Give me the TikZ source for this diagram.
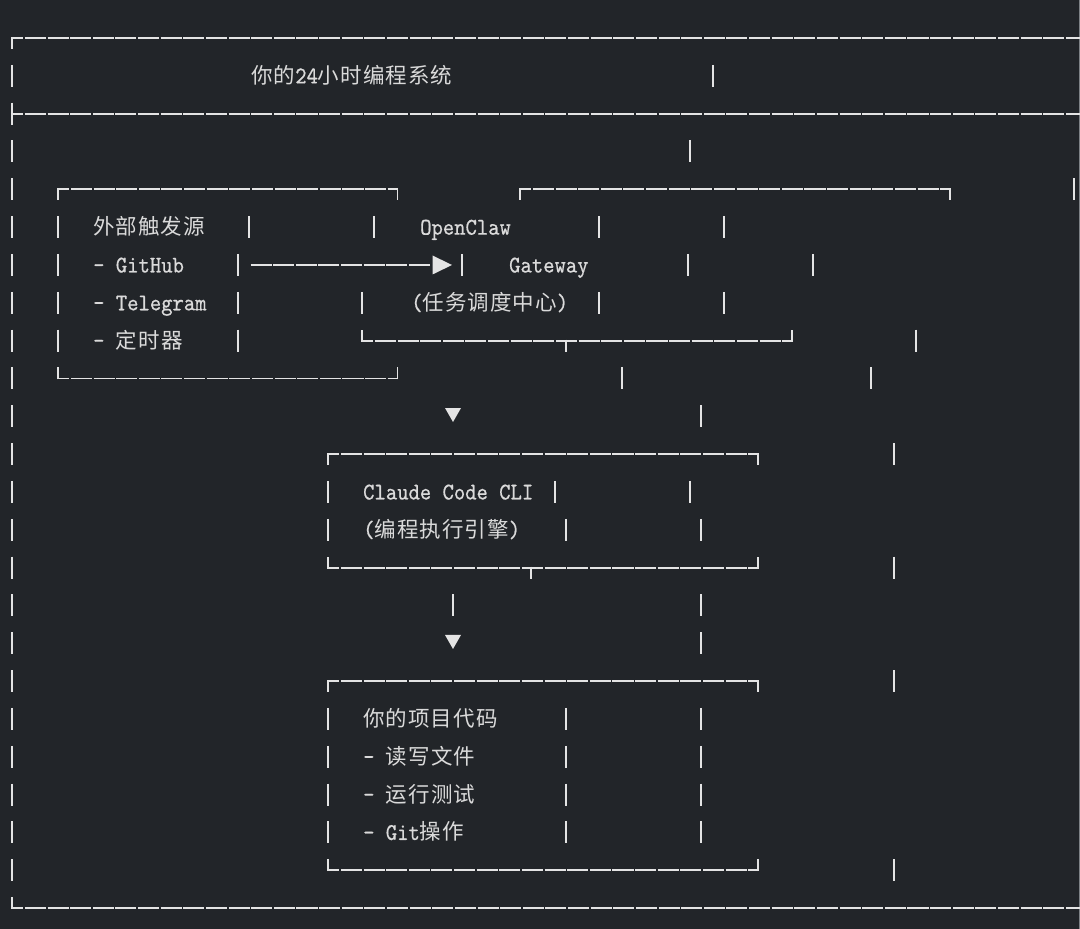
\documentclass[tikz,border=0pt]{standalone}
\usepackage{fontspec}
\newfontfamily\cjk[LetterSpace=5]{Noto Sans CJK SC}
\newfontfamily\monof[FakeStretch=0.9,FakeBold=0.6]{lmmono10-regular.otf}
\newcommand\mono{\monof\fontsize{24}{26}\selectfont}
\definecolor{bgc}{HTML}{222529}
\definecolor{lnc}{HTML}{E4E4E4}
\definecolor{txc}{HTML}{DADADA}
\definecolor{edgec}{HTML}{7E8286}
\newcommand\R[1]{(38+37.83*#1)}
\newcommand\vbr[2]{\draw[lnst] (#1,{\R{#2}-11}) -- (#1,{\R{#2}+11});}
\newcommand\hln[3]{\draw[lnst,dash pattern=on 21.03pt off 1.6pt,dash phase=9.715pt] (#1,{\R{#3}}) -- (#2,{\R{#3}});}
\newcommand\crdn[2]{\draw[lnst] (#1,{\R{#2}-0.9}) -- (#1,{\R{#2}+11});}
\newcommand\crup[2]{\draw[lnst] (#1,{\R{#2}+0.9}) -- (#1,{\R{#2}-11});}
\newcommand\tri[1]{\fill[lnc] (445,{\R{#1}-8.3}) -- (461,{\R{#1}-8.3}) -- (453,{\R{#1}+5.7}) -- cycle;}
\begin{document}
\begin{tikzpicture}[x=1pt,y=-1pt,
  lnst/.style={draw=lnc,line width=1.8pt},
  txt/.style={text=txc,inner sep=0pt,anchor=base west,font=\fontsize{21.5}{24}\selectfont}]
\fill[bgc] (0,0) rectangle (1080,929);
\useasboundingbox (0,0) rectangle (1080,929);
\draw[edgec,line width=0.8pt] (1079.6,0) -- (1079.6,929);
% outer frame
\crdn{12}{0} \hln{12}{1100}{0}
\foreach \r in {1,...,22} {\vbr{12}{\r}}
\hln{12}{1100}{2}
\crup{12}{23} \hln{12}{1100}{23}
% row 1 and 3
\vbr{713}{1}
\vbr{690}{3}
% row 4 box tops
\crdn{58}{4} \hln{58}{397.5}{4} \crdn{397.5}{4}
\crdn{520}{4} \hln{520}{950}{4} \crdn{950}{4}
\vbr{1074}{4}
% row 5
\foreach \x in {58,249,374,599,724} {\vbr{\x}{5}}
% row 6
\foreach \x in {58,238,462,688,813} {\vbr{\x}{6}}
\coordinate (arrS) at (250.5,{\R{6}});
\coordinate (arrE) at (431,{\R{6}});
\draw[lnst,dash pattern=on 21.03pt off 1.6pt] (arrS) -- (arrE);
\fill[lnc] (432.5,{\R{6}-9.5}) -- (452,{\R{6}}) -- (432.5,{\R{6}+9.5}) -- cycle;
% row 7
\foreach \x in {58,238,362,599,724} {\vbr{\x}{7}}
% row 8
\foreach \x in {58,238,916} {\vbr{\x}{8}}
\crup{362}{8} \hln{362}{792}{8} \crup{792}{8}
\crdn{566}{8}
% row 9
\crup{58}{9} \hln{58}{397.5}{9} \crup{397.5}{9}
\vbr{622}{9} \vbr{871}{9}
% row 10
\tri{10} \vbr{701}{10}
% row 11
\crdn{328}{11} \hln{328}{758}{11} \crdn{758}{11}
\vbr{894}{11}
% row 12, 13
\foreach \x in {328,555,690} {\vbr{\x}{12}}
\foreach \x in {328,566,701} {\vbr{\x}{13}}
% row 14
\crup{328}{14} \hln{328}{758}{14} \crup{758}{14}
\crdn{531}{14}
\vbr{894}{14}
% row 15, 16
\vbr{453}{15} \vbr{701}{15}
\tri{16} \vbr{701}{16}
% row 17
\crdn{328}{17} \hln{328}{758}{17} \crdn{758}{17}
\vbr{894}{17}
% rows 18-21
\foreach \r in {18,...,21} {\vbr{328}{\r} \vbr{566}{\r} \vbr{701}{\r}}
% row 22
\crup{328}{22} \hln{328}{758}{22} \crup{758}{22}
\vbr{894}{22}
% texts
\node[txt] (ttitle) at (251,{\R{1}+7.5}) {{\cjk 你的}{\mono 24}{\cjk 小时编程系统}};
\node[txt] (tsrc) at (93,{\R{5}+7.5}) {\cjk 外部触发源};
\node[txt] (tgh) at (93,{\R{6}+7.5}) {\mono - GitHub};
\node[txt] (ttg) at (93,{\R{7}+7.5}) {\mono - Telegram};
\node[txt] (ttimer) at (93,{\R{8}+7.5}) {{\mono - }{\cjk 定时器}};
\node[txt] (toc) at (420,{\R{5}+7.5}) {\mono OpenClaw};
\node[txt] (tgw) at (509,{\R{6}+7.5}) {\mono Gateway};
\node[txt] (tsched) at (411,{\R{7}+7.5}) {{\mono (}{\cjk 任务调度中心}{\mono )}};
\node[txt] (tcc) at (363,{\R{12}+7.5}) {\mono Claude Code CLI};
\node[txt] (teng) at (363,{\R{13}+7.5}) {{\mono (}{\cjk 编程执行引擎}{\mono )}};
\node[txt] (tproj) at (363,{\R{18}+7.5}) {\cjk 你的项目代码};
\node[txt] (trw) at (363,{\R{19}+7.5}) {{\mono - }{\cjk 读写文件}};
\node[txt] (ttest) at (363,{\R{20}+7.5}) {{\mono - }{\cjk 运行测试}};
\node[txt] (tgit) at (363,{\R{21}+7.5}) {{\mono - Git}{\cjk 操作}};
\end{tikzpicture}
\end{document}
